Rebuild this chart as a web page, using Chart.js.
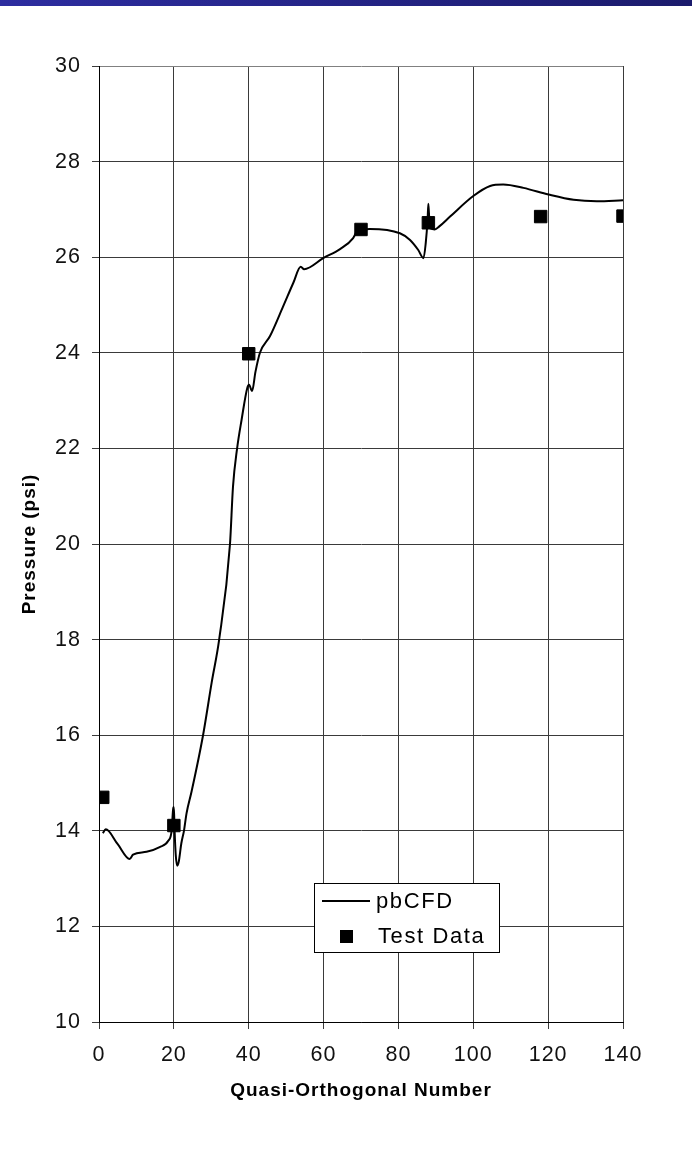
<!DOCTYPE html>
<html>
<head>
<meta charset="utf-8">
<script src="https://cdn.jsdelivr.net/npm/chart.js@4.4.1/dist/chart.umd.min.js"></script>
<style>
  html, body { margin: 0; padding: 0; background: #fff; }
  #topBar { position: absolute; left: 0; top: 0; width: 692px; height: 6px; background: linear-gradient(90deg, #2d2da0, #1b1b6c); }
  canvas { display: block; }
</style>
</head>
<body>
<div id="topBar"></div>
<canvas id="chart" width="692" height="1150"></canvas>
<script>
// pbCFD curve
const cfdX = [1.0, 1.8, 5.0, 8.2, 9.1, 12.7, 16.2, 18.5, 19.4, 19.8, 20.0, 20.2, 20.5, 20.9, 21.3, 22.0, 22.7, 23.4, 24.7,
  27.8, 30.1, 32.1, 35.0, 35.8, 36.9, 38.1, 39.6, 40.1, 40.9, 41.8, 43.0, 45.7, 49.2, 51.9, 53.9, 54.8, 59.9, 64.4,
  67.9, 68.8, 70.0, 72.4, 80.4, 83.1, 85.3, 86.7, 87.3, 87.8, 88.0, 88.3, 88.6, 89.7, 91.0, 93.8, 100, 104.5, 108,
  113.4, 120.1, 126.8, 133, 140];
const cfdY = [13.95, 14.03, 13.72, 13.41, 13.50, 13.56, 13.66, 13.79, 14.0, 14.45, 14.5, 14.0, 13.5, 13.27, 13.35, 13.74, 14.0, 14.37, 14.81,
  16.0, 17.1, 18.0, 20.0, 21.2, 22.0, 22.6, 23.26, 23.33, 23.2, 23.6, 24.0, 24.35, 24.97, 25.46, 25.8, 25.75, 25.98, 26.17,
  26.4, 26.53, 26.58, 26.59, 26.5, 26.36, 26.15, 25.98, 26.3, 26.8, 27.12, 26.7, 26.6, 26.58, 26.65, 26.85, 27.28, 27.49, 27.52,
  27.45, 27.31, 27.2, 27.17, 27.19];

// Test data squares
const testX = [1, 20, 40, 70, 88, 118, 140];
const testY = [14.7, 14.11, 23.98, 26.58, 26.72, 26.85, 26.86];

const seriesNames = ["pbCFD", "Test Data"];
const xRange = [0, 140];
const yRange = [10, 30];
const xStep = 20;
const yStep = 2;

const FONT = "'Liberation Sans', Arial, sans-serif";

const spacingPlugin = {
  id: "spacing",
  beforeDraw(chart) { chart.ctx.letterSpacing = "1px"; }
};

// boxed legend sitting inside the plot area
const boxLegend = {
  id: "boxLegend",
  afterDraw(chart) {
    const ctx = chart.ctx;
    const x = 314, y = 883, w = 185, h = 69;
    ctx.save();
    ctx.fillStyle = "#fff";
    ctx.fillRect(x, y, w, h);
    ctx.strokeStyle = "#000";
    ctx.lineWidth = 1;
    ctx.strokeRect(x + 0.5, y + 0.5, w, h);

    const ds = chart.data.datasets;
    ctx.strokeStyle = ds[0].borderColor;
    ctx.lineWidth = 2;
    ctx.beginPath();
    ctx.moveTo(x + 8, y + 18);
    ctx.lineTo(x + 56, y + 18);
    ctx.stroke();

    ctx.fillStyle = ds[1].backgroundColor;
    ctx.fillRect(x + 26, y + 47, 13, 13);

    ctx.letterSpacing = "1.6px";
    ctx.fillStyle = "#000";
    ctx.font = "22px " + FONT;
    ctx.textBaseline = "middle";
    ctx.fillText(ds[0].label, x + 62, y + 19);
    ctx.fillText(ds[1].label, x + 64, y + 54);
    ctx.restore();
  }
};

new Chart(document.getElementById("chart").getContext("2d"), {
  type: "scatter",
  data: {
    datasets: [
      {
        label: seriesNames[0],
        data: cfdX.map((x, i) => ({ x, y: cfdY[i] })),
        showLine: true,
        borderColor: "#000",
        borderWidth: 2,
        pointRadius: 0,
        cubicInterpolationMode: "monotone",
        order: 2
      },
      {
        label: seriesNames[1],
        data: testX.map((x, i) => ({ x, y: testY[i] })),
        showLine: false,
        pointStyle: "rect",
        pointRadius: 8.8,
        backgroundColor: "#000",
        borderColor: "#000",
        borderWidth: 1,
        order: 1
      }
    ]
  },
  options: {
    responsive: false,
    animation: false,
    devicePixelRatio: 1,
    layout: { padding: { top: 66, right: 69, left: 0, bottom: 0 } },
    plugins: { legend: { display: false }, tooltip: { enabled: false } },
    scales: {
      x: {
        type: "linear",
        min: xRange[0], max: xRange[1],
        afterFit: s => { s.height = 128; },
        ticks: { stepSize: xStep, color: "#111", padding: 13, font: { family: FONT, size: 21.5 }, maxRotation: 0 },
        grid: { color: "#3a3a3a", lineWidth: 1, tickLength: 7, tickColor: "#3a3a3a" },
        border: { color: "#000", width: 1 },
        title: {
          display: true, text: "Quasi-Orthogonal Number", color: "#000",
          font: { family: FONT, size: 19, weight: "bold" }, padding: { top: 0, bottom: 48 }
        }
      },
      y: {
        type: "linear",
        min: yRange[0], max: yRange[1],
        afterFit: s => { s.width = 99; },
        ticks: { stepSize: yStep, color: "#111", padding: 11, font: { family: FONT, size: 21.5 } },
        grid: {
          color: c => (c.tick && c.tick.value === yRange[1]) ? "#808080" : "#3a3a3a",
          lineWidth: 1, tickLength: 7, tickColor: "#3a3a3a"
        },
        border: { color: "#000", width: 1 },
        title: {
          display: true, text: "Pressure (psi)", color: "#000",
          font: { family: FONT, size: 19, weight: "bold" }, padding: { top: 18, bottom: 0 }
        }
      }
    }
  },
  plugins: [spacingPlugin, boxLegend]
});
</script>
</body>
</html>
